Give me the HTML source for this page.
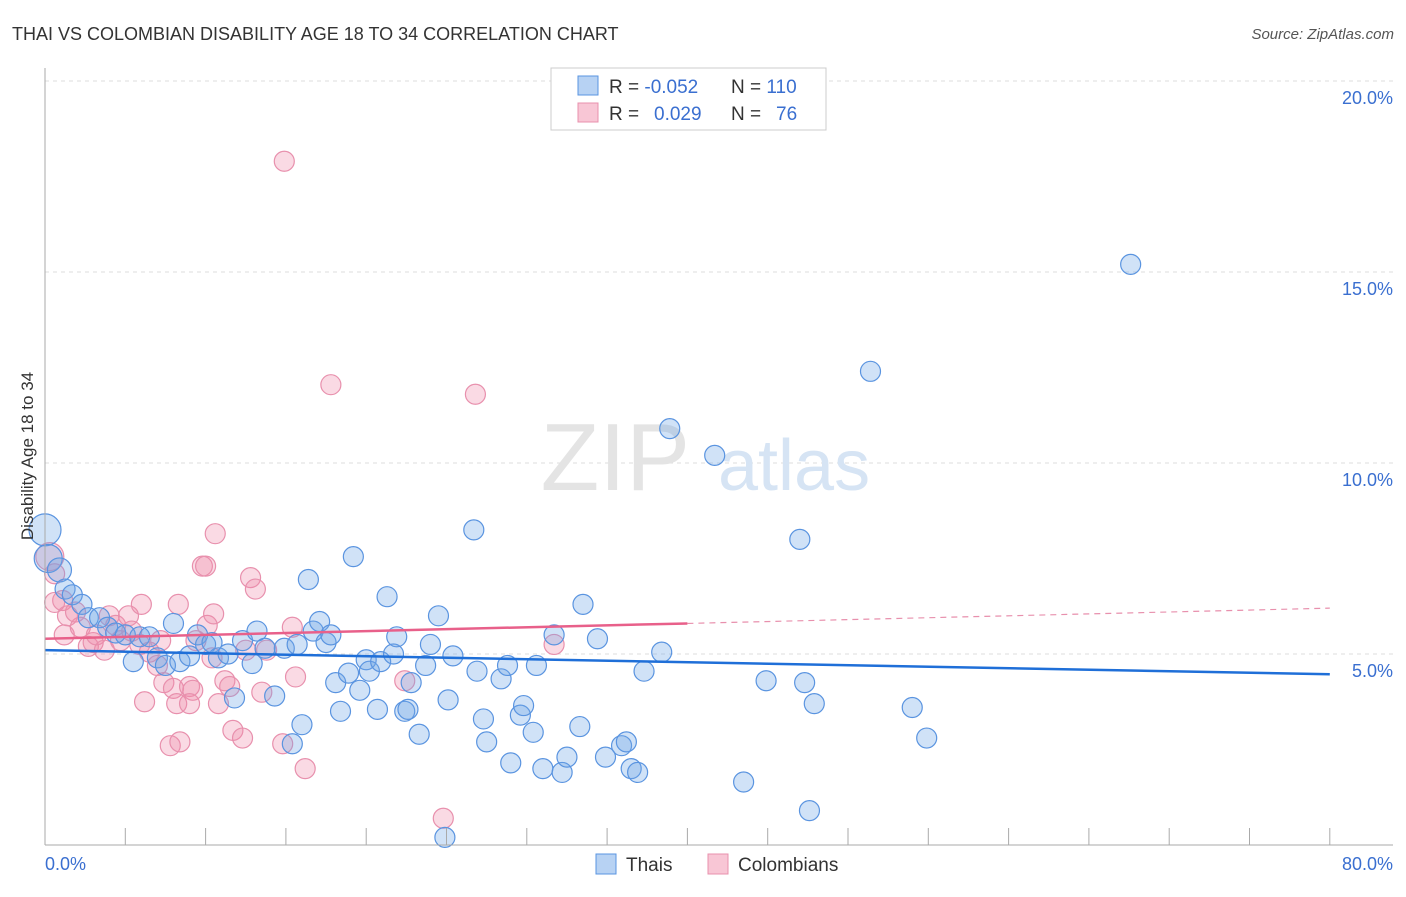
<!DOCTYPE html>
<html><head><meta charset="utf-8"><style>
body{margin:0;background:#fff;font-family:"Liberation Sans",sans-serif;}
svg text{font-family:"Liberation Sans",sans-serif;}
</style></head><body>
<svg width="1406" height="892" viewBox="0 0 1406 892" xmlns="http://www.w3.org/2000/svg">
<text x="12" y="40" font-size="18" fill="#333">THAI VS COLOMBIAN DISABILITY AGE 18 TO 34 CORRELATION CHART</text>
<text x="1394" y="39" font-size="15" fill="#555" text-anchor="end" font-style="italic">Source: ZipAtlas.com</text>
<g id="grid"></g>
<text x="690" y="490" font-size="96" fill="#e4e4e4" text-anchor="end" font-family="Liberation Serif">ZIP</text>
<text x="718" y="490" font-size="72" fill="#d6e4f4">atlas</text>
<g id="pts"></g>
<g id="trend"></g>
<line x1="45" y1="68" x2="45" y2="845" stroke="#aaa"/>
<line x1="45" y1="845" x2="1393" y2="845" stroke="#aaa"/>
<g id="xt"></g>
<text x="45" y="870" font-size="18" fill="#3a6fd0">0.0%</text>
<text x="1393" y="870" font-size="18" fill="#3a6fd0" text-anchor="end">80.0%</text>
<text transform="translate(33,456) rotate(-90)" font-size="17" fill="#333" text-anchor="middle">Disability Age 18 to 34</text>
<g>
<rect x="551" y="68" width="275" height="62" fill="#fff" stroke="#ccc"/>
<rect x="578" y="76" width="20" height="19" fill="#b7d2f3" stroke="#5a94e0"/>
<rect x="578" y="103" width="20" height="19" fill="#f8c6d5" stroke="#e890ad"/>
<text x="609" y="93" font-size="19" fill="#333">R = <tspan fill="#3a6fd0">-0.052</tspan></text>
<text x="731" y="93" font-size="19" fill="#333">N = <tspan fill="#3a6fd0">110</tspan></text>
<text x="609" y="120" font-size="19" fill="#333">R = <tspan fill="#3a6fd0" x="654">0.029</tspan></text>
<text x="731" y="120" font-size="19" fill="#333">N = <tspan fill="#3a6fd0" x="776">76</tspan></text>
</g>
<g>
<rect x="596" y="854" width="20" height="20" fill="#b7d2f3" stroke="#5a94e0"/>
<text x="626" y="871" font-size="19" fill="#333">Thais</text>
<rect x="708" y="854" width="20" height="20" fill="#f8c6d5" stroke="#e890ad"/>
<text x="738" y="871" font-size="19" fill="#333">Colombians</text>
</g>
</svg>
<script>
const yTicks=[5,10,15,20];
const yTickLabels=["5.0%","10.0%","15.0%","20.0%"];
const xTicks=[0,5,10,15,20,25,30,35,40,45,50,55,60,65,70,75,80];
const thaiX=[0,0.2,0.9,1.25,1.7,2.3,2.7,3.4,3.9,4.4,5.0,5.5,5.9,6.5,7.0,7.5,8.0,8.4,9.0,9.5,10.0,10.4,10.8,11.4,11.8,12.3,12.9,13.2,13.7,14.3,14.9,15.4,15.7,16.0,16.4,16.7,17.1,17.5,17.8,18.1,18.4,18.9,19.2,19.6,20.0,20.2,20.7,20.9,21.3,21.7,21.9,22.4,22.6,22.8,23.3,23.7,24.0,24.5,24.9,25.1,25.4,26.7,26.9,27.3,27.5,28.4,28.8,29.0,29.6,29.8,30.4,30.6,31.0,31.7,32.2,32.5,33.3,33.5,34.4,34.9,35.9,36.2,36.5,36.9,37.3,38.4,38.9,41.7,43.5,44.9,47.0,47.3,47.6,47.9,51.4,54.0,54.9,67.6];
const thaiY=[8.25,7.5,7.2,6.7,6.55,6.3,5.95,5.95,5.7,5.55,5.5,4.8,5.45,5.45,4.9,4.7,5.8,4.8,4.95,5.5,5.25,5.3,4.9,5.0,3.85,5.35,4.75,5.6,5.15,3.9,5.15,2.65,5.25,3.15,6.95,5.6,5.85,5.3,5.5,4.25,3.5,4.5,7.55,4.05,4.85,4.55,3.55,4.8,6.5,5.0,5.45,3.5,3.55,4.25,2.9,4.7,5.25,6.0,0.2,3.8,4.95,8.25,4.55,3.3,2.7,4.35,4.7,2.15,3.4,3.65,2.95,4.7,2.0,5.5,1.9,2.3,3.1,6.3,5.4,2.3,2.6,2.7,2.0,1.9,4.55,5.05,10.9,10.2,1.65,4.3,8.0,4.25,0.9,3.7,12.4,3.6,2.8,15.2];
const thaiR=[16,14,12];
const colX=[0.3,0.6,0.6,1.1,1.4,1.2,1.9,2.2,2.7,3.0,3.2,3.7,4.0,4.4,4.7,5.2,5.4,5.9,6.0,6.2,6.5,7.0,7.2,7.4,7.8,8.0,8.3,8.4,8.2,9.0,9.2,9.0,9.4,9.8,10.0,10.1,10.5,10.4,10.6,10.8,11.2,11.5,11.7,12.3,12.5,12.8,13.1,13.5,13.8,14.8,14.9,15.4,15.6,16.2,17.8,22.4,24.8,26.8,31.7];
const colY=[7.55,7.1,6.35,6.4,6.0,5.5,6.1,5.7,5.2,5.3,5.5,5.1,6.0,5.75,5.35,6.0,5.6,5.25,6.3,3.75,5.05,4.7,5.35,4.25,2.6,4.1,6.3,2.7,3.7,4.15,4.05,3.7,5.35,7.3,7.3,5.75,6.05,4.9,8.15,3.7,4.3,4.15,3.0,2.8,5.1,7.0,6.7,4.0,5.1,2.65,17.9,5.7,4.4,2.0,12.05,4.3,0.7,11.8,5.25];
const thaiTrend=[5.1,4.47];
const colTrendSolid=[5.4,5.8];
const colTrendEnd=[80,6.2];
const NS="http://www.w3.org/2000/svg";
const sx=v=>45+v*16.06, sy=v=>845-v*38.2;
const grid=document.getElementById('grid');
yTicks.forEach((t,i)=>{
 const l=document.createElementNS(NS,'line');
 l.setAttribute('x1',45);l.setAttribute('x2',1393);l.setAttribute('y1',sy(t));l.setAttribute('y2',sy(t));
 l.setAttribute('stroke','#ddd');l.setAttribute('stroke-dasharray','4,4');
 
 
 grid.appendChild(l);
 const tx=document.createElementNS(NS,'text');
 tx.setAttribute('x',1393);tx.setAttribute('y',sy(t)+23);tx.setAttribute('text-anchor','end');
 tx.setAttribute('font-size','18');tx.setAttribute('fill','#3a6fd0');tx.textContent=yTickLabels[i];
 
 
 grid.appendChild(tx);
});
const xt=document.getElementById('xt');
xTicks.forEach(t=>{
 if(t%5!==0) return;
 const l=document.createElementNS(NS,'line');
 l.setAttribute('x1',sx(t));l.setAttribute('x2',sx(t));l.setAttribute('y1',828);l.setAttribute('y2',845);
 l.setAttribute('stroke','#aaa');
 
 
 xt.appendChild(l);
});
const pts=document.getElementById('pts');
function dot(x,y,r,fill,stroke,name){
 const c=document.createElementNS(NS,'circle');
 c.setAttribute('cx',sx(x));c.setAttribute('cy',sy(y));c.setAttribute('r',r);
 c.setAttribute('fill',fill);c.setAttribute('stroke',stroke);c.setAttribute('stroke-width','1.2');
 
 
 pts.appendChild(c);
}
colX.forEach((x,i)=>dot(x,colY[i],i===0?14:10,'rgba(240,140,170,0.32)','#e890ad','colombian-point'));
thaiX.forEach((x,i)=>dot(x,thaiY[i],thaiR[i]||10,'rgba(110,165,230,0.32)','#5a94e0','thai-point'));
const tr=document.getElementById('trend');
function line(x1,y1,x2,y2,col,dash,name){
 const l=document.createElementNS(NS,'line');
 l.setAttribute('x1',sx(x1));l.setAttribute('y1',sy(y1));l.setAttribute('x2',sx(x2));l.setAttribute('y2',sy(y2));
 l.setAttribute('stroke',col);l.setAttribute('stroke-width',dash?1.2:2.5);
 if(dash) l.setAttribute('stroke-dasharray','6,5');
 
 
 tr.appendChild(l);
}
line(0,thaiTrend[0],80,thaiTrend[1],'#1f6fd8',false,'thai-trend-line');
line(0,colTrendSolid[0],40,colTrendSolid[1],'#e8608a',false,'colombian-trend-line');
line(40,colTrendSolid[1],colTrendEnd[0],colTrendEnd[1],'#e890ad',true,'colombian-trend-extension');
</script>
</body></html>
